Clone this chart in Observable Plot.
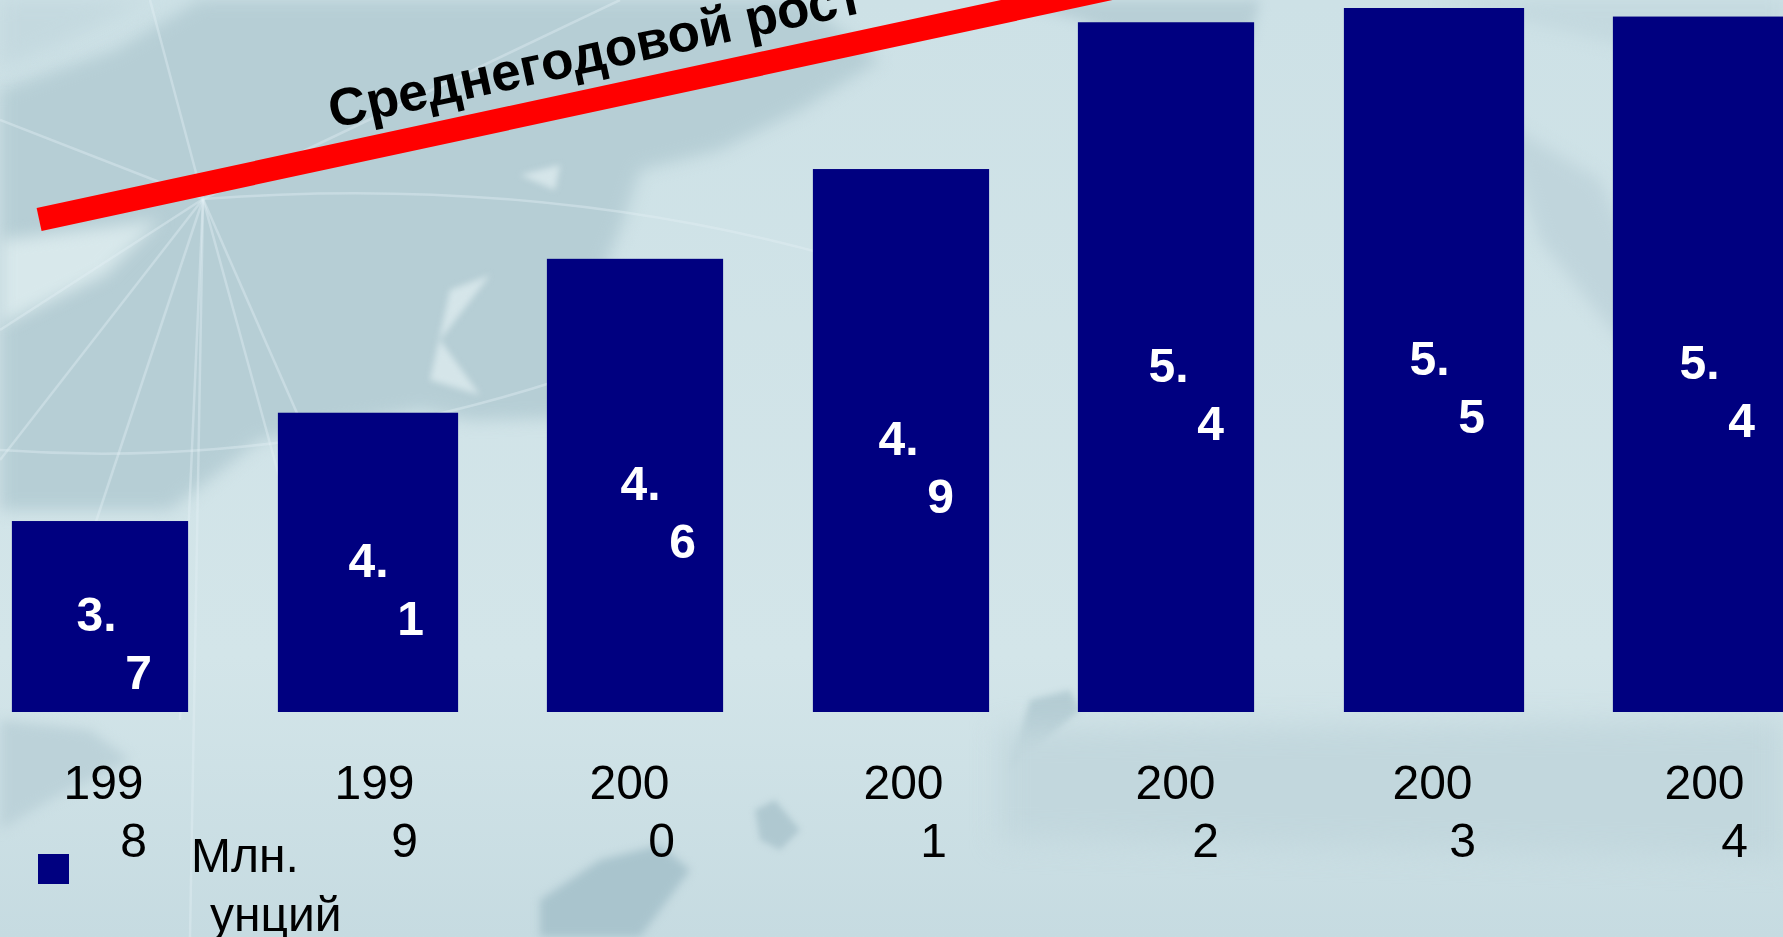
<!DOCTYPE html>
<html lang="ru">
<head>
<meta charset="utf-8">
<title>Среднегодовой рост</title>
<script src="https://cdn.jsdelivr.net/npm/d3@7"></script>
<script src="https://cdn.jsdelivr.net/npm/@observablehq/plot@0.6"></script>
<style>
html,body{margin:0;padding:0;width:1783px;height:937px;overflow:hidden;background:#cfe2e7}
#page{position:relative;width:1783px;height:937px;overflow:hidden;font-family:"Liberation Sans",Arial,sans-serif}
#backdrop{position:absolute;inset:0}
#chart{position:absolute;left:0;top:0}
#chart svg{display:block;background:transparent}
.legend-swatch{position:absolute;left:38px;top:854px;width:31px;height:30px;background:#000080}
.legend-line{position:absolute;font-size:48px;line-height:58px;color:#000;white-space:nowrap}
</style>
</head>
<body>
<div id="page">
  <canvas id="backdrop" width="1783" height="937"></canvas>
  <div id="chart"></div>
  <div class="legend-swatch"></div>
  <div class="legend-line" style="left:191px;top:827px">Млн.</div>
  <div class="legend-line" style="left:210px;top:886px">унций</div>
</div>
<script>
// Chart values
const years = [1998, 1999, 2000, 2001, 2002, 2003, 2004];
const labels = [3.7, 4.1, 4.6, 4.9, 5.4, 5.5, 5.4];
const barTops = [3.70, 4.08, 4.62, 4.935, 5.45, 5.5, 5.47];
const trendYears = [1997.77, 2001.83];
const trendLevels = [4.76, 5.58];
const headline = "Среднегодовой рост";

// Hand-set wrap offsets of the label lines (the source wrapped each label unevenly)
const yearShift = [3, 7, -5, 2, 7, -3, 2];
const digitShift = [30, 30, 32, 30, 30, 30, 30];
const valueShift = [-4, 1, 6, -3, 0, -6, -3];
// Small pixel-rounding differences of the source's bar edges
const barInsetLeft = [0, -1, 1, 0, -2, -3, -1];
const barInsetRight = [0, -3, -1, 0, 2, -1, 0];

const baseLevel = 3.03;
const navy = "#000080";
const sans = "Liberation Sans, Arial, sans-serif";
const rows = years.map((year, i) => ({year, top: barTops[i], text: labels[i].toFixed(1)}));
const trend = trendYears.map((year, i) => ({year, level: trendLevels[i]}));

const barMarks = rows.map((d, i) =>
  Plot.rectY([d], {x1: r => r.year - 0.33, x2: r => r.year + 0.33, y1: baseLevel, y2: "top", fill: navy,
    insetLeft: barInsetLeft[i], insetRight: barInsetRight[i]})
);
const yearAxes = rows.flatMap((d, i) => [
  Plot.axisX([d.year], {anchor: "bottom", tickSize: 0, tickPadding: 52, fontSize: 48, label: null,
    tickFormat: y => String(y).slice(0, 3), dx: yearShift[i], fill: "#000", fontFamily: sans}),
  Plot.axisX([d.year], {anchor: "bottom", tickSize: 0, tickPadding: 110, fontSize: 48, label: null,
    tickFormat: y => String(y).slice(3), dx: yearShift[i] + digitShift[i], fill: "#000", fontFamily: sans})
]);
const valueMarks = rows.flatMap((d, i) => [
  Plot.text([d], {x: "year", y: r => (baseLevel + r.top) / 2, text: r => r.text.slice(0, 2),
    dx: valueShift[i], dy: -1, fill: "#fff", fontSize: 48, fontWeight: "bold", fontFamily: sans}),
  Plot.text([d], {x: "year", y: r => (baseLevel + r.top) / 2, text: r => r.text.slice(2),
    dx: valueShift[i] + 42, dy: 57, fill: "#fff", fontSize: 48, fontWeight: "bold", fontFamily: sans})
]);

const chart = Plot.plot({
  width: 1783, height: 937,
  marginTop: 8, marginBottom: 225, marginLeft: 100, marginRight: 81,
  style: {background: "transparent", overflow: "hidden"},
  x: {type: "linear", domain: [1998, 2004], range: [100, 1702], axis: null},
  y: {type: "linear", domain: [baseLevel, 5.5], range: [712, 8], axis: null},
  marks: [
    ...barMarks,
    ...valueMarks,
    ...yearAxes,
    Plot.line(trend, {x: "year", y: "level", stroke: "#ff0000", strokeWidth: 23.5, strokeLinecap: "butt"}),
    Plot.text([{year: 1998.87, level: 5.08}], {x: "year", y: "level", text: () => headline, rotate: -12.3,
      textAnchor: "start", lineAnchor: "bottom", fontSize: 53, fontWeight: "bold", fill: "#000", fontFamily: sans})
  ]
});
document.getElementById("chart").append(chart);

// Decorative map-like backdrop
const ctx = document.getElementById("backdrop").getContext("2d");
const grad = ctx.createLinearGradient(0, 0, 0, 937);
grad.addColorStop(0, "#cde1e6"); grad.addColorStop(0.7, "#d3e5e9"); grad.addColorStop(1, "#c6dbe1");
ctx.fillStyle = grad; ctx.fillRect(0, 0, 1783, 937);
function blob(points, color, blur) {
  ctx.save(); ctx.filter = `blur(${blur}px)`; ctx.fillStyle = color; ctx.beginPath();
  points.forEach(([x, y], i) => i ? ctx.lineTo(x, y) : ctx.moveTo(x, y));
  ctx.closePath(); ctx.fill(); ctx.restore();
}
blob([[0,90],[115,50],[200,0],[800,0],[880,60],[800,110],[720,150],[640,170],[620,230],[590,300],[570,418],[470,420],[420,410],[260,440],[170,510],[0,510]], "#b6ced5", 8);
blob([[0,240],[160,220],[105,275],[0,325]], "#d8e8eb", 8);
blob([[0,0],[150,0],[60,45],[0,70]], "#c4d9df", 10);
blob([[450,290],[490,275],[440,340],[480,395],[430,380]], "#d5e5e9", 3);
blob([[520,175],[560,165],[555,190]], "#d5e5e9", 3);
blob([[0,720],[90,730],[130,760],[50,800],[0,830]], "#bcd2d9", 6);
blob([[1000,0],[1260,0],[1250,40],[1180,60],[1080,20]], "#b8cfd6", 6);
blob([[1440,0],[1783,0],[1783,80],[1600,40]], "#c4d9df", 8);
blob([[1500,120],[1600,180],[1680,360],[1620,340],[1540,240]], "#c0d5dc", 8);
blob([[540,900],[600,860],[660,845],[690,870],[640,937],[540,937]], "#a9c4cd", 4);
blob([[755,810],[775,800],[800,830],[780,850],[760,840]], "#afc8d0", 3);
blob([[1010,770],[1080,710],[1070,690],[1030,700]], "#b5cdd4", 3);
blob([[1000,730],[1783,720],[1783,860],[1000,840]], "#c2d7dd", 14);
// pale meridians radiating from the pole
ctx.strokeStyle = "rgba(228,241,244,.4)"; ctx.lineWidth = 2.5;
const pole = [203, 199];
[[150,0],[0,120],[0,330],[0,460],[70,600],[180,720],[190,937],[300,420],[280,480],[620,0]].forEach(([x, y]) => {
  ctx.beginPath(); ctx.moveTo(...pole); ctx.lineTo(x, y); ctx.stroke();
});
ctx.beginPath(); ctx.moveTo(0, 450); ctx.quadraticCurveTo(280, 470, 560, 380); ctx.stroke();
ctx.beginPath(); ctx.moveTo(203, 199); ctx.quadraticCurveTo(600, 170, 940, 290); ctx.stroke();
</script>
</body>
</html>
